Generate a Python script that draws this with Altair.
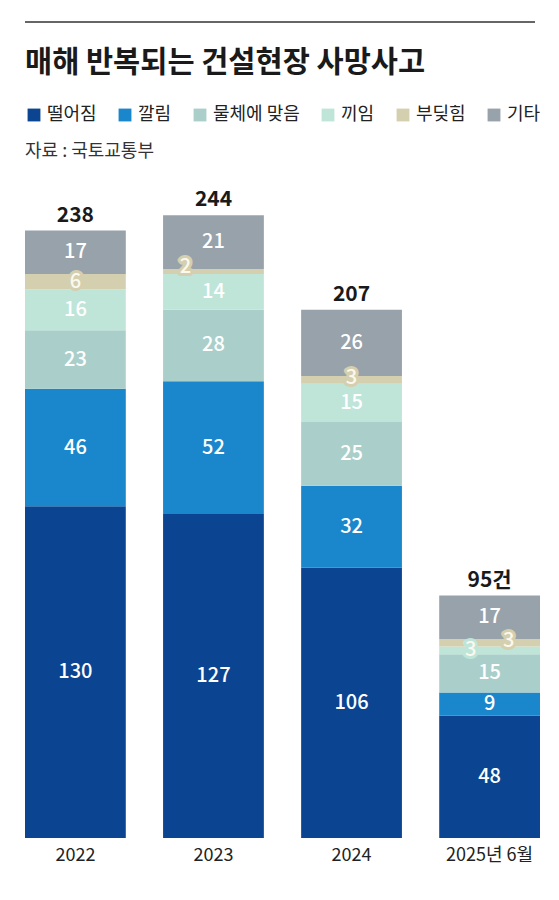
import altair as alt
import pandas as pd

years = ["2022", "2023", "2024", "2025년 6월"]
categories = ["떨어짐", "깔림", "물체에 맞음", "끼임", "부딪힘", "기타"]
falls = [130, 127, 106, 48]
crushed = [46, 52, 32, 9]
struck = [23, 28, 25, 15]
caught = [16, 14, 15, 3]
bumped = [6, 2, 3, 3]
other = [17, 21, 26, 17]
total_labels = ["238", "244", "207", "95건"]
title_text = "매해 반복되는 건설현장 사망사고"
source_text = "자료 : 국토교통부"
colors = ["#0b4591", "#1a87cc", "#aacfca", "#bfe5d9", "#d4cfae", "#98a2aa"]

series = [falls, crushed, struck, caught, bumped, other]
rows = []
for ci, (cat, vals) in enumerate(zip(categories, series)):
    for yr, v in zip(years, vals):
        rows.append({"year": yr, "cat": cat, "order": ci, "value": v})
df = pd.DataFrame(rows)
tot = pd.DataFrame({
    "year": years,
    "total": [sum(s[i] for s in series) for i in range(len(years))],
    "label": total_labels,
})
one = pd.DataFrame({"title": [title_text], "source": [source_text]})

FONT = "Noto Sans CJK KR"
yscale = alt.Scale(domain=[0, 250])
xplain = alt.X("year:N", sort=years)
cscale = alt.Scale(domain=categories, range=colors)

base = alt.Chart(df).transform_stack(
    stack="value", groupby=["year"], as_=["v0", "v1"],
    sort=[alt.SortField("order", "ascending")]
).transform_calculate(mid="(datum.v0 + datum.v1) / 2")

bars = base.mark_bar().encode(
    x=alt.X("year:N", sort=years,
            scale=alt.Scale(paddingInner=0.27, paddingOuter=0),
            axis=alt.Axis(title=None, labelAngle=0, domain=False, ticks=False,
                          labelFontSize=18, labelColor="#222", labelPadding=8,
                          labelFont=FONT)),
    y=alt.Y("v0:Q", scale=yscale, axis=None),
    y2="v1:Q",
    color=alt.Color("cat:N", sort=categories, scale=cscale,
                    legend=alt.Legend(title=None, orient="none", direction="horizontal",
                                      legendX=0, legendY=-94, symbolType="square",
                                      symbolSize=165, symbolStrokeWidth=0,
                                      labelFontSize=18, labelFont=FONT, labelColor="#222",
                                      labelOffset=4, columnPadding=19)),
)

labels = base.transform_filter("datum.value > 6").mark_text(
    color="white", fontSize=20, font=FONT, baseline="middle", fontWeight=500
).encode(x=xplain, y=alt.Y("mid:Q", scale=yscale), text="value:Q")

small_specs = [
    ("datum.value <= 6 && datum.year == '2022'", 0, 0),
    ("datum.value <= 6 && datum.year == '2024'", 0, -2),
    ("datum.value <= 6 && datum.year == '2023'", -28, -4),
    ("datum.year == '2025년 6월' && datum.cat == '끼임'", -19, 0),
    ("datum.year == '2025년 6월' && datum.cat == '부딪힘'", 19, -2),
]
small_layers = []
for flt, dx, dy in small_specs:
    halo = base.transform_filter(flt).mark_text(
        fontSize=20, font=FONT, baseline="middle", fontWeight=500,
        strokeWidth=6, strokeJoin="round", dx=dx, dy=dy
    ).encode(
        x=xplain, y=alt.Y("mid:Q", scale=yscale), text="value:Q",
        stroke=alt.Stroke("cat:N", scale=alt.Scale(domain=categories, range=colors), legend=None),
        fill=alt.Fill("cat:N", scale=alt.Scale(domain=categories, range=colors), legend=None),
    )
    core = base.transform_filter(flt).mark_text(
        fontSize=20, font=FONT, baseline="middle", fontWeight=500,
        color="#fbf8ee", dx=dx, dy=dy
    ).encode(x=xplain, y=alt.Y("mid:Q", scale=yscale), text="value:Q")
    small_layers += [halo, core]

totals = alt.Chart(tot).mark_text(
    fontSize=21, fontWeight="bold", font=FONT, color="#1a1a1a",
    baseline="alphabetic", dy=-9
).encode(x=xplain, y=alt.Y("total:Q", scale=yscale), text="label:N")

rule = alt.Chart(one).mark_rule(color="#333", strokeWidth=1.5).encode(
    x=alt.value(0), x2=alt.value(510), y=alt.value(-178)
)

title = alt.Chart(one).mark_text(
    font=FONT, fontSize=29.5, fontWeight="bold", color="#1a1a1a",
    align="left", baseline="middle"
).encode(x=alt.value(0), y=alt.value(-137), text="title:N")

source = alt.Chart(one).mark_text(
    font=FONT, fontSize=18, color="#333", align="left", baseline="middle"
).encode(x=alt.value(0), y=alt.value(-48), text="source:N")

chart = alt.layer(bars, labels, *small_layers, totals, rule, title, source).properties(
    width=515, height=638,
    padding={"left": 17, "top": 192, "right": 10, "bottom": 40},
    autosize=alt.AutoSizeParams(type="none"),
).configure_view(stroke=None)

chart.save("out.html", embed_options={"renderer": "svg", "actions": False})
